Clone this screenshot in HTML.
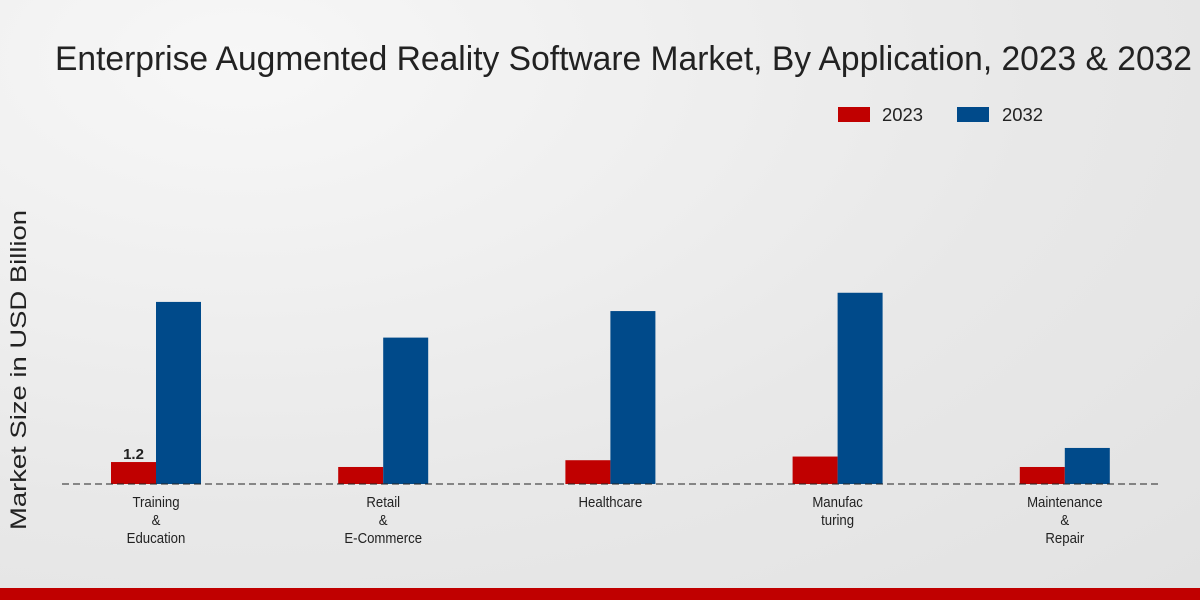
<!DOCTYPE html>
<html><head><meta charset="utf-8"><style>
html,body{margin:0;padding:0;width:1200px;height:600px;overflow:hidden}
body{background:radial-gradient(ellipse at 20% 10%,#f7f7f7 0%,#e8e8e8 60%,#e2e2e2 100%);font-family:"Liberation Sans",sans-serif}
</style></head><body>
<svg id="chart" width="1200" height="600" xmlns="http://www.w3.org/2000/svg">
<text x="55" y="70" font-size="34" fill="#222" textLength="1137" lengthAdjust="spacingAndGlyphs">Enterprise Augmented Reality Software Market, By Application, 2023 &amp; 2032</text>
<g>
<rect x="838" y="107" width="32" height="15" fill="#c00000"/>
<text x="882" y="121" font-size="18" fill="#222" textLength="41" lengthAdjust="spacingAndGlyphs">2023</text>
<rect x="957" y="107" width="32" height="15" fill="#004a8a"/>
<text x="1002" y="121" font-size="18" fill="#222" textLength="41" lengthAdjust="spacingAndGlyphs">2032</text>
</g>
<text transform="translate(26,370) rotate(-90)" x="-160" font-size="22" fill="#222" textLength="320" lengthAdjust="spacingAndGlyphs">Market Size in USD Billion</text>
<g id="bars"></g>
<line x1="62" y1="484" x2="1160" y2="484" stroke="#222" stroke-dasharray="7,4" stroke-width="1"/>
<g id="labels"></g>
<rect x="0" y="588" width="1200" height="12" fill="#c00000"/>
</svg>
<script>
const categories=[["Training","&","Education"],["Retail","&","E-Commerce"],["Healthcare"],["Manufac","turing"],["Maintenance","&","Repair"]];
const values2023=[1.2,0.93,1.3,1.5,0.93];
const values2032=[9.95,8.0,9.45,10.45,1.97];
const NS="http://www.w3.org/2000/svg";
const base=484,scale=18.3,x0=156,step=227.2,bw=45;
const yPx=v=>base-v*scale;
const xC=i=>x0+i*step;
const bars=document.getElementById('bars'),labels=document.getElementById('labels');
function bar(x,v,color,name){
 const r=document.createElementNS(NS,'rect');
 r.setAttribute('x',x);r.setAttribute('y',yPx(v));r.setAttribute('width',bw);r.setAttribute('height',base-yPx(v));r.setAttribute('fill',color);
 
 
 bars.appendChild(r);
}
categories.forEach((c,i)=>{
 bar(xC(i)-bw,values2023[i],'#c00000','bar-2023-'+i);
 bar(xC(i),values2032[i],'#004a8a','bar-2032-'+i);
 const t=document.createElementNS(NS,'text');
 t.setAttribute('text-anchor','middle');t.setAttribute('font-size','15');t.setAttribute('fill','#222');
 t.setAttribute('transform','translate('+xC(i)+',0) scale(0.88,1)');
 
 
 c.forEach((line,j)=>{const s=document.createElementNS(NS,'tspan');s.setAttribute('x',0);s.setAttribute('y',507+j*18);s.textContent=line;t.appendChild(s);});
 labels.appendChild(t);
});
const v=document.createElementNS(NS,'text');
v.setAttribute('x',xC(0)-bw/2);v.setAttribute('y',yPx(values2023[0])-3);v.setAttribute('text-anchor','middle');
v.setAttribute('font-size','15');v.setAttribute('font-weight','bold');v.setAttribute('fill','#222');
v.textContent=values2023[0];


labels.appendChild(v);
</script>
</body></html>
